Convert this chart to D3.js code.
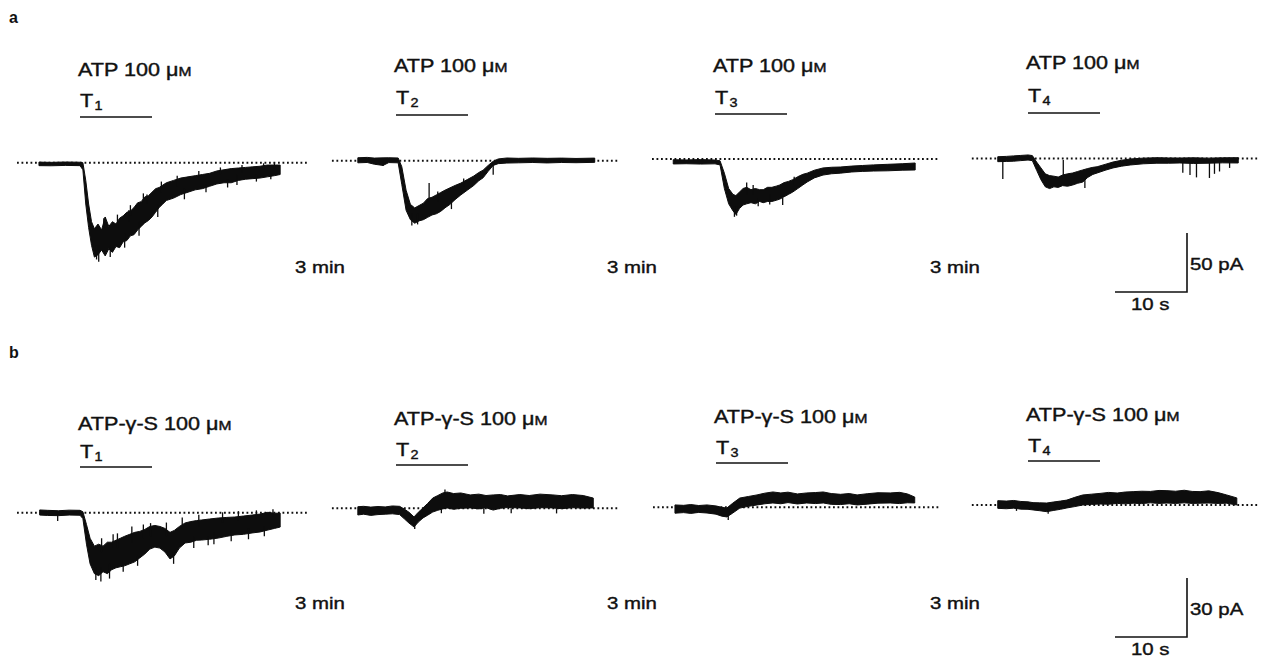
<!DOCTYPE html>
<html>
<head>
<meta charset="utf-8">
<script src="https://cdn.jsdelivr.net/npm/d3@7"></script>
<style>
  html, body { margin: 0; padding: 0; background: #fff; }
  svg { display: block; }
  text { font-family: "Liberation Sans", Arial, Helvetica, sans-serif; fill: #111; }
</style>
</head>
<body>
<svg id="fig" width="1266" height="659"></svg>
<script>
// ====== DATA ======
const panelLabels = ['a', 'b'];
const agonists = ['ATP 100 ', 'ATP-γ-S 100 '];
const trials = ['1', '2', '3', '4'];
const intervalLabel = '3 min';
const scaleCurrent = [50, 30];   // pA
const scaleTime = 10;            // s
const application = [0, 10];     // s, agonist bar

// traces: [time (s from agonist onset), upper edge (pA), lower edge (pA)]
const traceA1 = [
  [-5.7, 0.5, -2.5], [-4, 0.3, -2.6], [-2, 0.6, -2.3], [0, 0.4, -2.5], [0.4, 0, -6],
  [0.8, -15, -35], [1.2, -35, -55], [1.6, -50, -70], [2.0, -56, -80], [2.5, -52, -78],
  [3.0, -57, -74], [3.5, -46, -79], [4.0, -54, -73], [4.5, -50, -76], [5.0, -52, -71],
  [5.5, -47, -72], [6.0, -45, -67], [6.5, -42, -66], [7.0, -41, -62], [7.5, -38, -61],
  [8.0, -34, -57], [8.5, -33, -54], [9.0, -29, -51], [9.5, -28, -49], [10, -25, -46],
  [10.5, -22, -42], [11, -21, -38], [11.5, -19, -35], [12, -17, -32], [13, -15, -30],
  [14, -13, -27], [15, -12, -25], [16, -11, -23], [17, -10, -22], [18, -9, -20],
  [19, -7, -18], [20, -6, -17], [21, -5, -17], [22, -4.5, -15], [23, -4, -14],
  [24, -3.5, -13.5], [25, -3, -13], [26, -2, -12], [27, -2, -11], [27.8, -2, -10]
];
const traceA2 = [
  [-5.3, 2.5, -1.8], [-4, 2.8, -1.5], [-3, 2.2, -3], [-1.8, 2.4, -4], [-1, 2.5, -1.6],
  [0.3, 2.3, -1.8], [0.8, -5, -20], [1.4, -25, -42], [2.0, -37, -50], [2.6, -40, -53],
  [3.2, -38, -51], [3.8, -36, -50], [4.4, -32, -48], [5.0, -31, -46], [5.6, -29, -45],
  [6.2, -27, -43], [6.8, -25, -40], [7.5, -23, -37], [8.2, -21, -33], [9.0, -19, -29],
  [9.9, -16, -25], [10.8, -13, -21], [11.5, -10, -17], [12.1, -8, -14.5], [12.8, -4, -9],
  [13.5, -0.5, -4], [14.2, 1.5, -2.5], [15.4, 2.3, -2], [17, 2, -1.8], [19, 2.3, -1.5],
  [21, 2, -1.9], [23, 2.2, -1.5], [25, 1.9, -1.7], [27.6, 2.2, -1.4]
];
const traceA3 = [
  [-5.8, -0.6, -4.2], [-4, -0.8, -4], [-2, -0.5, -4.3], [0, -0.9, -4.1], [0.7, -1.5, -5],
  [1.3, -12, -25], [1.9, -25, -38], [2.5, -30, -44], [2.9, -31, -47], [3.4, -28, -42],
  [3.9, -25, -39], [4.4, -24, -38], [5.0, -26, -37], [5.6, -25, -38], [6.2, -26, -36],
  [6.7, -26, -37], [7.3, -24, -36], [7.9, -24, -36], [8.5, -23, -35], [9.0, -22, -34],
  [9.6, -20, -32], [10.2, -19, -30], [10.8, -17.5, -28], [11.5, -15, -25], [12.2, -13, -22],
  [12.8, -12, -19.5], [13.8, -9.5, -16], [15, -7.6, -13.6], [16.2, -7, -12.5], [17.4, -6.8, -12],
  [19, -6, -11], [20.5, -5.5, -10.5], [22, -5, -10.2], [24, -4.5, -10], [26, -4, -9.5],
  [27.8, -3.4, -9.3]
];
const traceA4 = [
  [-4.2, 1.5, -2.7], [-3, 1.8, -2.5], [-2, 2.2, -2.3], [-1, 2.6, -1.8], [0, 3, -1.3],
  [0.6, 2.5, -1.8], [1.2, -3, -10], [1.8, -8, -18], [2.4, -13, -24], [3.0, -14.5, -25.5],
  [3.6, -15, -24], [4.2, -15.7, -24.5], [4.8, -14, -23], [5.5, -13, -23.5], [6.2, -12.3, -22.5],
  [6.9, -11, -21], [7.6, -9.7, -20], [8.3, -8.5, -16], [9.0, -7.5, -13.5], [9.6, -7, -12.3],
  [10.7, -5, -10], [11.8, -3, -8], [13, -1.5, -6.5], [14.2, -0.4, -5.5], [16, 0.3, -4.5],
  [17.9, 0.7, -4], [19.5, 0.5, -4], [21.1, 0.4, -3.8], [23, 0.6, -4.2], [25, 0.3, -4],
  [27, 0.6, -3.7], [29.2, 0.7, -3.8]
];
const traceB1 = [
  [-5.6, 1.4, -1.2], [-4.5, 1.2, -1.4], [-3, 1.0, -1.5], [-1.5, 1.3, -1.2], [0, 1.2, -1.3],
  [0.4, 0.5, -3], [0.9, -6, -16], [1.4, -13, -26], [2.0, -17, -31], [2.6, -16, -32],
  [3.2, -17, -30], [3.8, -15, -31], [4.4, -15, -29], [5.0, -14, -28], [5.6, -13, -27.5],
  [6.2, -12, -27], [6.9, -11, -26], [7.6, -10, -25], [8.3, -9.5, -23], [9.0, -8.5, -21],
  [9.7, -7, -18.5], [10.4, -6.5, -17.5], [11.1, -7, -18], [11.8, -8, -20], [12.5, -10, -23.5],
  [13.1, -9, -22], [13.8, -7, -18], [14.6, -5.2, -15.4], [15.4, -4.5, -15], [16.2, -4, -14],
  [16.9, -3.7, -13.9], [18, -3.2, -13.5], [19.2, -2.7, -12.9], [20.4, -2.4, -12], [21.5, -2.2, -11.3],
  [22.7, -1.7, -11], [23.9, -1.2, -10.3], [25, -0.7, -9.8], [26.1, 0.2, -8.8], [27, -0.3, -8],
  [27.8, -0.2, -7.3]
];
const traceB2 = [
  [-5.3, 0.8, -3.4], [-4.5, 1.0, -3.0], [-3.5, 0.6, -3.6], [-2.5, 0.9, -3.2], [-1.5, 0.7, -3.0],
  [-0.5, 1.2, -2.8], [0.5, 1.0, -3.2], [1.2, -0.5, -5.5], [1.8, -2, -7.5], [2.5, -4.4, -9.5],
  [3.1, -2, -7], [3.75, 0.2, -4.9], [4.4, 2.5, -3.5], [5.1, 5.2, -1.9], [5.8, 6.5, -1],
  [6.5, 7.8, -0.3], [7.1, 8.3, 0.2], [8, 7.5, -0.5], [9, 7.8, 0], [10.3, 6.8, 0.2],
  [11.5, 7.2, -0.3], [12.5, 6.5, 0.3], [13.5, 6.8, -0.9], [14.5, 7, 0], [15.5, 6.3, 0.4],
  [17.2, 7, 0.2], [18.5, 6.5, -0.2], [20, 7.2, 0.3], [21.8, 6.8, 0.2], [23, 6.4, -0.2],
  [24.5, 7, 0.3], [26, 6.5, 0.1], [27.4, 5.2, 0.2]
];
const traceB3 = [
  [-5.7, 1.2, -3], [-4.5, 1.0, -2.7], [-3.5, 1.4, -3.1], [-2.4, 0.9, -2.6], [-1.25, 1.2, -2.9],
  [0, 0.7, -3.5], [0.8, 0, -4.5], [1.5, -0.4, -4.9], [2.3, 2, -3], [3.3, 4.7, -0.4],
  [4.5, 5.5, 0.5], [5.7, 6.3, 1.2], [6.8, 7.2, 1.8], [7.9, 7.8, 2.2], [9, 7.3, 1.8],
  [10, 7.7, 2.4], [11.3, 6.8, 1.7], [12.6, 7.3, 2.2], [13.8, 7.5, 1.9], [14.9, 7.8, 2.2],
  [16, 7, 1.5], [17.3, 6.6, 1.4], [18.5, 7, 1.8], [19.6, 6.3, 1.2], [21, 6.9, 1.6],
  [22.5, 7.4, 2.1], [24.2, 7.3, 2.2], [25.5, 7.6, 1.9], [26.6, 6.8, 2.3], [27.6, 5.2, 2.2]
];
const traceB4 = [
  [-4.2, 2.2, -1.7], [-3, 2.0, -1.9], [-2, 2.3, -1.6], [-1, 1.8, -2.1], [0, 1.6, -2.2],
  [0.7, 1.2, -2.5], [1.6, 1.1, -2.9], [2.6, 1, -3.4], [3.5, 1.5, -2.8], [4.5, 2, -2.2],
  [5.4, 2.5, -1.5], [6.5, 3.9, -0.8], [7.6, 5.1, 0], [8.8, 5.5, 0.3], [10, 5.9, 0.5],
  [11.2, 6.4, 0.4], [12.4, 6.1, 0.8], [13.5, 6.6, 0.6], [14.6, 6.8, 0.9], [15.8, 7.0, 0.7],
  [17, 6.9, 1.1], [18.2, 7.4, 0.8], [19.3, 7.3, 1], [20.5, 7.0, 0.8], [21.7, 7.5, 1.1],
  [22.8, 6.9, 0.8], [23.9, 6.8, 0.9], [25.1, 7.2, 1], [26.4, 6.3, 0.8], [27.6, 5.1, 0.9],
  [29.0, 3.6, 0]
];

// single spikes: [time, from (pA), to (pA)]
const spikesA1 = [
  [2.3, -70, -82], [3.5, -55, -46], [6.8, -50, -40], [9.3, -35, -27], [21.8, -10, -19],
  [3.3, -55, -47], [5.2, -55, -44], [7.0, -45, -36], [8.8, -35, -26], [11.3, -25, -16],
  [13.5, -20, -11], [16.5, -14, -7], [19.5, -10, -4], [22.5, -8, -2], [25.5, -6, -0.5], [27, -5, 0.5],
  [2.6, -70, -84], [4.2, -70, -80], [6.2, -60, -72], [8.2, -50, -62], [10.8, -35, -46],
  [14.5, -22, -31], [17.5, -18, -25], [20.5, -14, -21], [24.5, -10, -16], [26.5, -9, -14]
];
const spikesA2 = [[4.6, -35, -19], [7.7, -35, -41], [13.5, -2, -12], [-1.8, 0, -4.5],
  [2.2, -45, -55], [3.0, -45, -54], [5.8, -35, -26], [9.4, -22, -15]];
const spikesA3 = [[4.4, -30, -20], [9.4, -33, -39], [3.0, -40, -48],
  [2.7, -40, -49], [5.3, -30, -22], [6.0, -33, -40], [7.6, -30, -38.5], [11, -22, -15]];
const spikesA4 = [[-3.5, -1, -17.4], [4.9, -14, -1.3], [7.9, -18, -25], [21.5, -3, -12], [22.5, -3, -14],
  [23.4, -3, -16], [25.2, -3, -16.5], [25.9, -3, -13], [26.6, -3, -11], [28, -3, -8]];
const spikesB1 = [
  [-3.1, -1, -4.2], [2.2, -28, -34.2], [5.2, -18, -10.5], [9.8, -12, -5.3], [17.8, -12, -16.5],
  [3.0, -20, -13], [4.6, -18, -11], [7.2, -15, -7], [8.8, -13, -6], [12.0, -12, -5],
  [14.2, -8, -2.5], [16.5, -7, -1], [19.8, -5, 0.2], [22, -4, 0.8], [24.5, -3, 1.2], [26.8, -2, 1.8],
  [2.9, -28, -35], [4.1, -26, -33.5], [6.0, -24, -30], [8.0, -22, -27], [13.0, -20, -26],
  [15.8, -12, -18], [18.6, -10, -16], [21.0, -9, -14.5], [23.4, -8, -13.5], [25.6, -7, -12]
];
const spikesB2 = [[2.6, -8, -10.5], [6.3, 0, -2.5], [6.8, 7, 9.5], [12.2, 0, -2.8], [16, 0, -2.5], [22.3, 0, -2.6]];
const spikesB3 = [[1.7, -3, -6.5]];
const spikesB4 = [[2.8, -1, -4.5], [-1.6, -1, -3]];

const traces = [[traceA1, traceA2, traceA3, traceA4], [traceB1, traceB2, traceB3, traceB4]];
const spikes = [[spikesA1, spikesA2, spikesA3, spikesA4], [spikesB1, spikesB2, spikesB3, spikesB4]];

// ====== LAYOUT ======
const colOrigin = [[80, 396, 715, 1028], [80, 396, 716, 1028]];   // x of agonist onset
const baseY = [[162.7, 160.7, 159, 158.5], [512.7, 508.3, 507.3, 505]];
const dotSpan = [[-8.75, 31.5], [-8.9, 31.1], [-8.75, 31.25], [-7.8, 32.2]];
const agonistY = [[76, 72, 72, 69], [430, 425, 423, 421]];
const trialY = [[107, 104, 104, 102], [458, 456, 454, 452]];
const barY = [[117, 115, 114, 113], [467, 465, 463, 461]];
const gapX = [295, 607, 930];
const gapY = [273, 609];
const scaleBarX = 1187;
const scaleBarBottom = [292, 637];
const panelLabelY = [23, 358];
const TEXT_SX = 1.2;

const svg = d3.select('#fig');
const x = d3.scaleLinear().domain([0, 10]).range([0, 72]);
const yScales = scaleCurrent.map(v => d3.scaleLinear().domain([0, -v]).range([0, 59]));

function stretchedText(parent, px, py, size) {
  return parent.append('text')
    .attr('transform', `translate(${px},${py}) scale(${TEXT_SX},1)`)
    .attr('font-size', size)
    .attr('stroke', '#111')
    .attr('stroke-width', 0.4);
}

// ====== DRAW ======
panelLabels.forEach((lab, r) => {
  svg.append('text')
    .attr('x', 9).attr('y', panelLabelY[r])
    .attr('font-size', 16).attr('font-weight', 'bold')
    .text(lab);

  const y = yScales[r];
  const area = d3.area()
    .x(d => x(d[0]))
    .y0(d => y(d[2]))
    .y1(d => y(d[1]));

  trials.forEach((tr, c) => {
    const ox = colOrigin[r][c];
    const g = svg.append('g').attr('transform', `translate(${ox},${baseY[r][c]})`);

    // dotted baseline
    g.append('line')
      .attr('x1', x(dotSpan[c][0])).attr('x2', x(dotSpan[c][1]))
      .attr('y1', y(0)).attr('y2', y(0))
      .attr('stroke', '#111').attr('stroke-width', 2)
      .attr('stroke-dasharray', '1.8,2.7');

    // trace band
    g.append('path')
      .datum(traces[r][c])
      .attr('d', area)
      .attr('fill', '#0d0d0d')
      .attr('stroke', '#0d0d0d')
      .attr('stroke-width', 1)
      .attr('stroke-linejoin', 'round');

    g.selectAll('.spike')
      .data(spikes[r][c])
      .enter().append('line')
      .attr('x1', d => x(d[0])).attr('x2', d => x(d[0]))
      .attr('y1', d => y(d[1])).attr('y2', d => y(d[2]))
      .attr('stroke', '#0d0d0d').attr('stroke-width', 1.3);

    // agonist label + bar
    const t = stretchedText(svg, ox - 2, agonistY[r][c], 18);
    t.append('tspan').text(agonists[r] + 'μ');
    t.append('tspan').attr('font-size', 13).text('M');

    const tt = stretchedText(svg, ox, trialY[r][c], 18);
    tt.append('tspan').text('T');
    tt.append('tspan').attr('font-size', 12).attr('dy', 3).attr('dx', 1).text(tr);

    svg.append('line')
      .attr('x1', ox + x(application[0])).attr('x2', ox + x(application[1]))
      .attr('y1', barY[r][c]).attr('y2', barY[r][c])
      .attr('stroke', '#111').attr('stroke-width', 1.6);
  });

  // interval labels
  gapX.forEach(gx => {
    stretchedText(svg, gx, gapY[r], 17).text(intervalLabel);
  });

  // scale bar
  const yb = scaleBarBottom[r];
  const h = y(-scaleCurrent[r]) - y(0);
  const w = x(scaleTime) - x(0);
  svg.append('path')
    .attr('d', `M${scaleBarX - w},${yb}H${scaleBarX}V${yb - h}`)
    .attr('fill', 'none').attr('stroke', '#111').attr('stroke-width', 1.6);
  stretchedText(svg, scaleBarX + 3, yb - h / 2 + 7, 17).text(scaleCurrent[r] + ' pA');
  stretchedText(svg, scaleBarX - w / 2 - 20, yb + 18, 17).text(scaleTime + ' s');
});
</script>
</body>
</html>
